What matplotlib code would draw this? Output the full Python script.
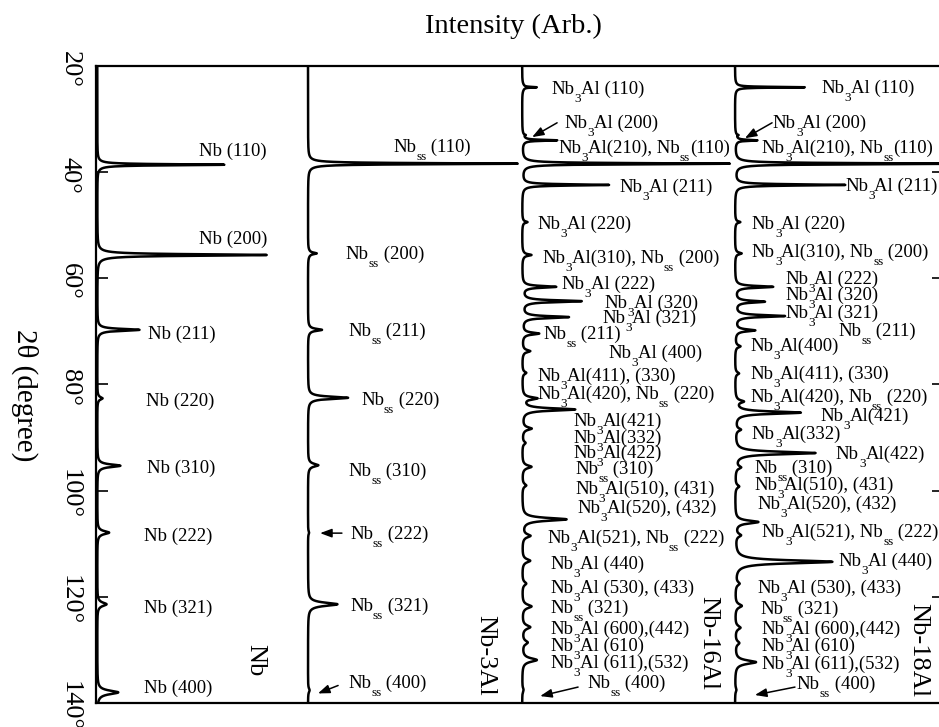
import re
import numpy as np
import matplotlib
matplotlib.use("Agg")
import matplotlib.pyplot as plt
from matplotlib.font_manager import FontProperties

plt.rcParams["font.family"] = ["Liberation Serif", "DejaVu Serif"]

# ---------------------------------------------------------------- data
TWO_THETA_TICKS = [20, 40, 60, 80, 100, 120, 140]
TICK_LABELS = ["20°", "40°", "60°", "80°", "100°", "120°", "140°"]
SAMPLES = ["Nb", "Nb-3Al", "Nb-16Al", "Nb-18Al"]

# peak positions (2theta, deg) and relative intensities (fraction of panel width)
NB_2T = [38.6, 55.6, 69.7, 82.6, 95.3, 107.9, 121.4, 138.0]
NB_I = [0.59, 0.79, 0.19, 0.02, 0.10, 0.047, 0.035, 0.09]
NB_LABELS = ["Nb (110)", "Nb (200)", "Nb (211)", "Nb (220)",
             "Nb (310)", "Nb (222)", "Nb (321)", "Nb (400)"]

NB3_2T = [38.4, 55.3, 69.7, 82.5, 95.2, 107.9, 121.4, 137.6]
NB3_I = [0.98, 0.033, 0.057, 0.18, 0.04, 0.004, 0.13, 0.006]
NB3_LABELS = ["Nb_{ss} (110)", "Nb_{ss} (200)", "Nb_{ss} (211)", "Nb_{ss} (220)",
              "Nb_{ss} (310)", "Nb_{ss} (222)", "Nb_{ss} (321)", "Nb_{ss} (400)"]

NB16_2T = [24.0, 33.0, 34.0, 38.4, 42.4, 49.4, 55.6, 61.6, 64.3, 67.3, 70.4,
           73.7, 77.8, 82.6, 84.7, 88.3, 91.0, 95.5, 99.0, 105.4, 108.5,
           113.2, 117.5, 121.8, 125.7, 128.6, 131.9, 137.5]
NB16_I = [0.06, 0.01, 0.155, 0.97, 0.40, 0.02, 0.035, 0.15, 0.27, 0.21, 0.07,
          0.03, 0.015, 0.06, 0.24, 0.035, 0.012, 0.035, 0.015, 0.20, 0.03,
          0.03, 0.015, 0.035, 0.03, 0.02, 0.06, 0.005]

NB18_2T = [24.0, 33.0, 34.0, 38.4, 42.4, 49.4, 55.3, 61.6, 64.4, 67.1, 69.8,
           72.8, 77.9, 83.2, 85.3, 88.5, 92.9, 95.6, 99.2, 105.9, 108.4,
           113.4, 117.5, 121.7, 125.8, 128.7, 132.3, 137.5]
NB18_I = [0.32, 0.01, 0.095, 1.05, 0.51, 0.02, 0.025, 0.17, 0.13, 0.225, 0.085,
          0.02, 0.015, 0.03, 0.30, 0.02, 0.37, 0.02, 0.015, 0.10, 0.02,
          0.45, 0.015, 0.025, 0.02, 0.015, 0.09, 0.005]

NB16_LABELS = ["Nb_{3}Al (110)", "Nb_{3}Al (200)", "Nb_{3}Al(210), Nb_{ss}(110)",
               "Nb_{3}Al (211)", "Nb_{3}Al (220)", "Nb_{3}Al(310), Nb_{ss} (200)",
               "Nb_{3}Al (222)", "Nb_{3}Al (320)", "Nb_{3}Al (321)", "Nb_{ss} (211)",
               "Nb_{3}Al (400)", "Nb_{3}Al(411), (330)", "Nb_{3}Al(420), Nb_{ss} (220)",
               "Nb_{3}Al(421)", "Nb_{3}Al(332)", "Nb_{3}Al(422)", "Nb_{ss} (310)",
               "Nb_{3}Al(510), (431)", "Nb_{3}Al(520), (432)",
               "Nb_{3}Al(521), Nb_{ss} (222)", "Nb_{3}Al (440)",
               "Nb_{3}Al (530), (433)", "Nb_{ss} (321)", "Nb_{3}Al (600),(442)",
               "Nb_{3}Al (610)", "Nb_{3}Al (611),(532)", "Nb_{ss} (400)"]
NB18_LABELS = ["Nb_{3}Al (110)", "Nb_{3}Al (200)", "Nb_{3}Al(210), Nb_{ss}(110)",
               "Nb_{3}Al (211)", "Nb_{3}Al (220)", "Nb_{3}Al(310), Nb_{ss} (200)",
               "Nb_{3}Al (222)", "Nb_{3}Al (320)", "Nb_{3}Al (321)", "Nb_{ss} (211)",
               "Nb_{3}Al(400)", "Nb_{3}Al(411), (330)", "Nb_{3}Al(420), Nb_{ss} (220)",
               "Nb_{3}Al(421)", "Nb_{3}Al(332)", "Nb_{3}Al(422)", "Nb_{ss} (310)",
               "Nb_{3}Al(510), (431)", "Nb_{3}Al(520), (432)",
               "Nb_{3}Al(521), Nb_{ss} (222)", "Nb_{3}Al (440)",
               "Nb_{3}Al (530), (433)", "Nb_{ss} (321)", "Nb_{3}Al (600),(442)",
               "Nb_{3}Al (610)", "Nb_{3}Al (611),(532)", "Nb_{ss} (400)"]

# ---------------------------------------------------------------- layout
PANEL_BASE = [0.006, 1.0, 2.01, 3.014]

NB_LABEL_POS = [(0.481, 35.8), (0.481, 52.4), (0.241, 70.3), (0.231, 83.0),
                (0.236, 95.5), (0.222, 108.4), (0.222, 121.9), (0.222, 137.0)]
NB3_LABEL_POS = [(0.401, 35.1), (0.179, 55.2), (0.189, 69.7), (0.250, 82.7),
                 (0.189, 96.1), (0.198, 108.0), (0.198, 121.5), (0.189, 136.0)]
NB16_LABEL_POS = [(0.137, 24.1), (0.198, 30.5), (0.170, 35.3), (0.458, 42.6),
                  (0.071, 49.6), (0.094, 56.0), (0.184, 60.9), (0.387, 64.5),
                  (0.377, 67.3), (0.099, 70.3), (0.406, 73.9), (0.071, 78.2),
                  (0.071, 81.6), (0.241, 86.7), (0.241, 89.9), (0.241, 92.7),
                  (0.250, 95.7), (0.250, 99.5), (0.259, 103.1), (0.118, 108.7),
                  (0.132, 113.6), (0.132, 118.2), (0.132, 121.9), (0.132, 125.9),
                  (0.132, 129.1), (0.132, 132.3), (0.307, 136.0)]
NB18_LABEL_POS = [(0.406, 24.0), (0.179, 30.5), (0.127, 35.3), (0.519, 42.4),
                  (0.080, 49.6), (0.080, 54.9), (0.236, 60.0), (0.236, 63.0),
                  (0.236, 66.3), (0.486, 69.7), (0.071, 72.6), (0.071, 77.8),
                  (0.071, 82.2), (0.401, 85.7), (0.080, 89.1), (0.476, 92.9),
                  (0.090, 95.5), (0.090, 98.8), (0.104, 102.3), (0.127, 107.6),
                  (0.486, 113.0), (0.108, 118.2), (0.118, 122.1), (0.127, 125.9),
                  (0.127, 129.1), (0.127, 132.5), (0.292, 136.2)]

# arrows marking weak reflections: (panel, tail, head) as (offset, 2theta)
ARROWS = [(1, (0.160, 108.0), (0.057, 108.0)),
          (1, (0.142, 136.7), (0.047, 138.2)),
          (2, (0.165, 30.7), (0.047, 33.4)),
          (2, (0.264, 137.0), (0.085, 138.7)),
          (3, (0.175, 30.7), (0.047, 33.6)),
          (3, (0.283, 137.0), (0.094, 138.5))]

SAMPLE_POS = [(0.745, 131.9), (0.835, 131.0), (0.877, 128.7), (0.866, 130.0)]

FS = 13.5        # peak label size
SUB_FS = 9.5     # subscript size
SUB_DROP = 8     # px
LABEL_SHIFT = 6  # px from text centre to baseline

# ---------------------------------------------------------------- figure
fig = plt.figure(figsize=(9.39, 7.27), dpi=100)
ax = fig.add_axes([96 / 939, 24 / 727, 848 / 939, 637 / 727])
ax.set_xlim(0, 4)
ax.set_ylim(140, 20)
ax.set_xticks([])
ax.set_yticks(TWO_THETA_TICKS)
ax.tick_params(axis="y", direction="in", length=8.6, width=1.2,
               left=True, right=True, labelleft=False, labelright=False)
for side in ("left", "top", "bottom", "right"):
    ax.spines[side].set_linewidth(1.6)

tt = np.linspace(20, 140, 24001)


def pattern(centers, heights):
    """Sharp Lorentzian line plus a weak broad foot for every reflection."""
    prof = np.zeros_like(tt)
    for c, h in zip(centers, heights):
        w = 0.07 + 0.0028 * (c - 20)
        prof += h * w ** 2 / ((tt - c) ** 2 + w ** 2)
        hb, wb = min(0.25 * h, 0.009), 0.9
        prof += hb * wb ** 3 / ((tt - c) ** 2 + wb ** 2) ** 1.5
    return prof


renderer = fig.canvas.get_renderer()


def advance(s, size):
    prop = FontProperties(family="Liberation Serif", size=size)
    w1 = renderer.get_text_width_height_descent("|" + s + "|", prop, ismath=False)[0]
    w0 = renderer.get_text_width_height_descent("||", prop, ismath=False)[0]
    return w1 - w0


def put_label(x, y, label):
    parts = re.split(r"_\{(.*?)\}", label)
    dx = 0.0
    for i, part in enumerate(parts):
        if not part:
            continue
        sub = i % 2 == 1
        fs = SUB_FS if sub else FS
        dy = -LABEL_SHIFT - (SUB_DROP if sub else 0)
        ax.annotate(part, (x, y), xytext=(dx, dy), textcoords="offset pixels",
                    fontsize=fs, ha="left", va="baseline", annotation_clip=False)
        dx += advance(part, fs)


panels = [(NB_2T, NB_I, NB_LABELS, NB_LABEL_POS),
          (NB3_2T, NB3_I, NB3_LABELS, NB3_LABEL_POS),
          (NB16_2T, NB16_I, NB16_LABELS, NB16_LABEL_POS),
          (NB18_2T, NB18_I, NB18_LABELS, NB18_LABEL_POS)]

for k, (cen, hts, labels, pos) in enumerate(panels):
    base = PANEL_BASE[k]
    ax.plot(base + pattern(cen, hts), tt, color="black", lw=1.8,
            solid_joinstyle="round", clip_on=True)
    for lab, (ox, y) in zip(labels, pos):
        put_label(base + ox, y, lab)
    sx, sy = SAMPLE_POS[k]
    ax.text(base + sx, sy, SAMPLES[k], rotation=-90, ha="center", va="center",
            fontsize=19)

for k, tail, head in ARROWS:
    b = PANEL_BASE[k]
    ax.annotate("", xy=(b + head[0], head[1]), xytext=(b + tail[0], tail[1]),
                arrowprops=dict(arrowstyle="-|>,head_length=0.35,head_width=0.13",
                                color="black", lw=1.1, shrinkA=0, shrinkB=0,
                                mutation_scale=20))

# 2theta tick labels, rotated to read downwards
for t, lab in zip(TWO_THETA_TICKS, TICK_LABELS):
    ax.annotate(lab, (0, t), xycoords=("axes fraction", "data"), xytext=(-26, -3),
                textcoords="offset pixels", rotation=-90, ha="center", va="center",
                fontsize=19, annotation_clip=False)

fig.text(25 / 939, 1 - 395 / 727, "2θ (degree)", rotation=-90, ha="center",
         va="center", fontsize=21)
fig.text(513 / 939, 1 - 33 / 727, "Intensity (Arb.)", ha="center", va="baseline",
         fontsize=20.5)

fig.savefig("out.png", dpi=100)
